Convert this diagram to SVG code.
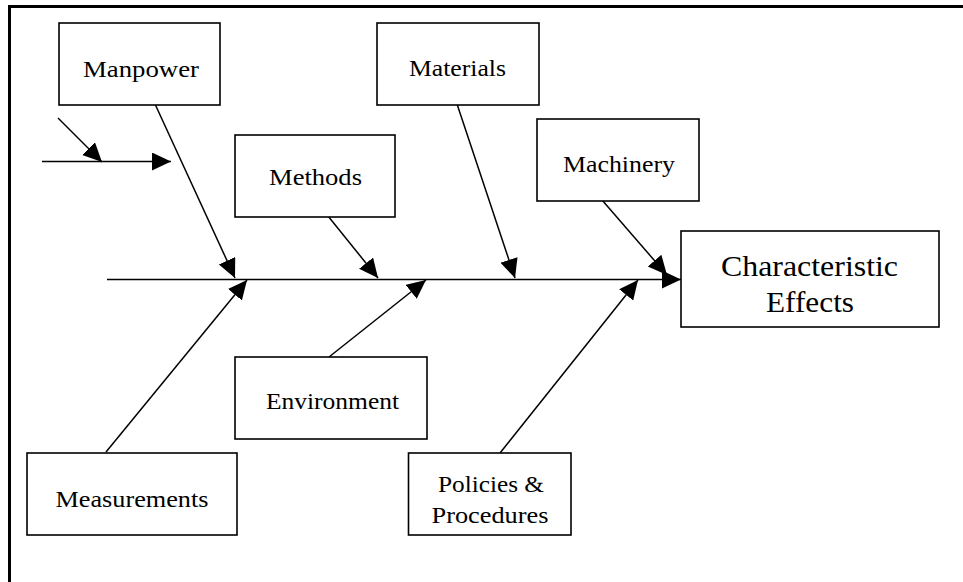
<svg xmlns="http://www.w3.org/2000/svg" width="963" height="582" viewBox="0 0 963 582">
<style>
.box{fill:#fff;stroke:#000;stroke-width:1.6}
.lbl{font-family:"Liberation Serif","Times New Roman",serif;font-size:24px;fill:#000;text-anchor:middle}
.big{font-size:29px}
.con{stroke:#000;stroke-width:1.5;fill:none;marker-end:url(#ah)}
</style>
<defs>
<marker id="ah" markerUnits="userSpaceOnUse" markerWidth="20" markerHeight="20" refX="19" refY="9" orient="auto">
<path d="M0,0 L19,9 L0,18 z" fill="#000"/>
</marker>
</defs>
<rect width="963" height="582" fill="#fff"/>
<g id="frame">
<line x1="8" y1="6.5" x2="963" y2="6.5" stroke="#000" stroke-width="3"/>
<line x1="9.5" y1="5" x2="9.5" y2="582" stroke="#000" stroke-width="3"/>
</g>
<g id="connectors">
<line class="con" x1="58" y1="118" x2="102" y2="162"/>
<line class="con" x1="42" y1="161.5" x2="171" y2="161.5"/>
<line class="con" x1="107" y1="279.5" x2="681" y2="279.5"/>
<line class="con" x1="155" y1="104" x2="235" y2="278"/>
<line class="con" x1="106" y1="452" x2="247" y2="280"/>
<line class="con" x1="328" y1="216" x2="378" y2="278"/>
<line class="con" x1="329" y1="357" x2="426" y2="280"/>
<line class="con" x1="457" y1="104" x2="515" y2="278"/>
<line class="con" x1="602" y1="200" x2="667" y2="275"/>
<line class="con" x1="500" y1="453" x2="638" y2="280"/>
</g>
<g id="manpower">
<rect class="box" x="59" y="23" width="161" height="82"/>
<text class="lbl" x="141" y="77" textLength="116" lengthAdjust="spacingAndGlyphs">Manpower</text>
</g>
<g id="materials">
<rect class="box" x="377" y="23" width="162" height="82"/>
<text class="lbl" x="457.5" y="76" textLength="97" lengthAdjust="spacingAndGlyphs">Materials</text>
</g>
<g id="methods">
<rect class="box" x="235" y="135" width="160" height="82"/>
<text class="lbl" x="315.5" y="185" textLength="93" lengthAdjust="spacingAndGlyphs">Methods</text>
</g>
<g id="machinery">
<rect class="box" x="537" y="119" width="162" height="82"/>
<text class="lbl" x="619" y="172" textLength="112" lengthAdjust="spacingAndGlyphs">Machinery</text>
</g>
<g id="effects">
<rect class="box" x="681" y="231" width="258" height="96"/>
<text class="lbl big" x="809.5" y="275.5" textLength="177" lengthAdjust="spacingAndGlyphs">Characteristic</text>
<text class="lbl big" x="810" y="311.5" textLength="88" lengthAdjust="spacingAndGlyphs">Effects</text>
</g>
<g id="environment">
<rect class="box" x="235" y="357" width="192" height="82"/>
<text class="lbl" x="332.5" y="408.5" textLength="133" lengthAdjust="spacingAndGlyphs">Environment</text>
</g>
<g id="measurements">
<rect class="box" x="27" y="453" width="210" height="82"/>
<text class="lbl" x="132" y="507" textLength="153" lengthAdjust="spacingAndGlyphs">Measurements</text>
</g>
<g id="policies">
<rect class="box" x="408.5" y="453" width="162.5" height="82"/>
<text class="lbl" x="491" y="491.5" textLength="106" lengthAdjust="spacingAndGlyphs">Policies &amp;</text>
<text class="lbl" x="490" y="522.5" textLength="117" lengthAdjust="spacingAndGlyphs">Procedures</text>
</g>
</svg>
